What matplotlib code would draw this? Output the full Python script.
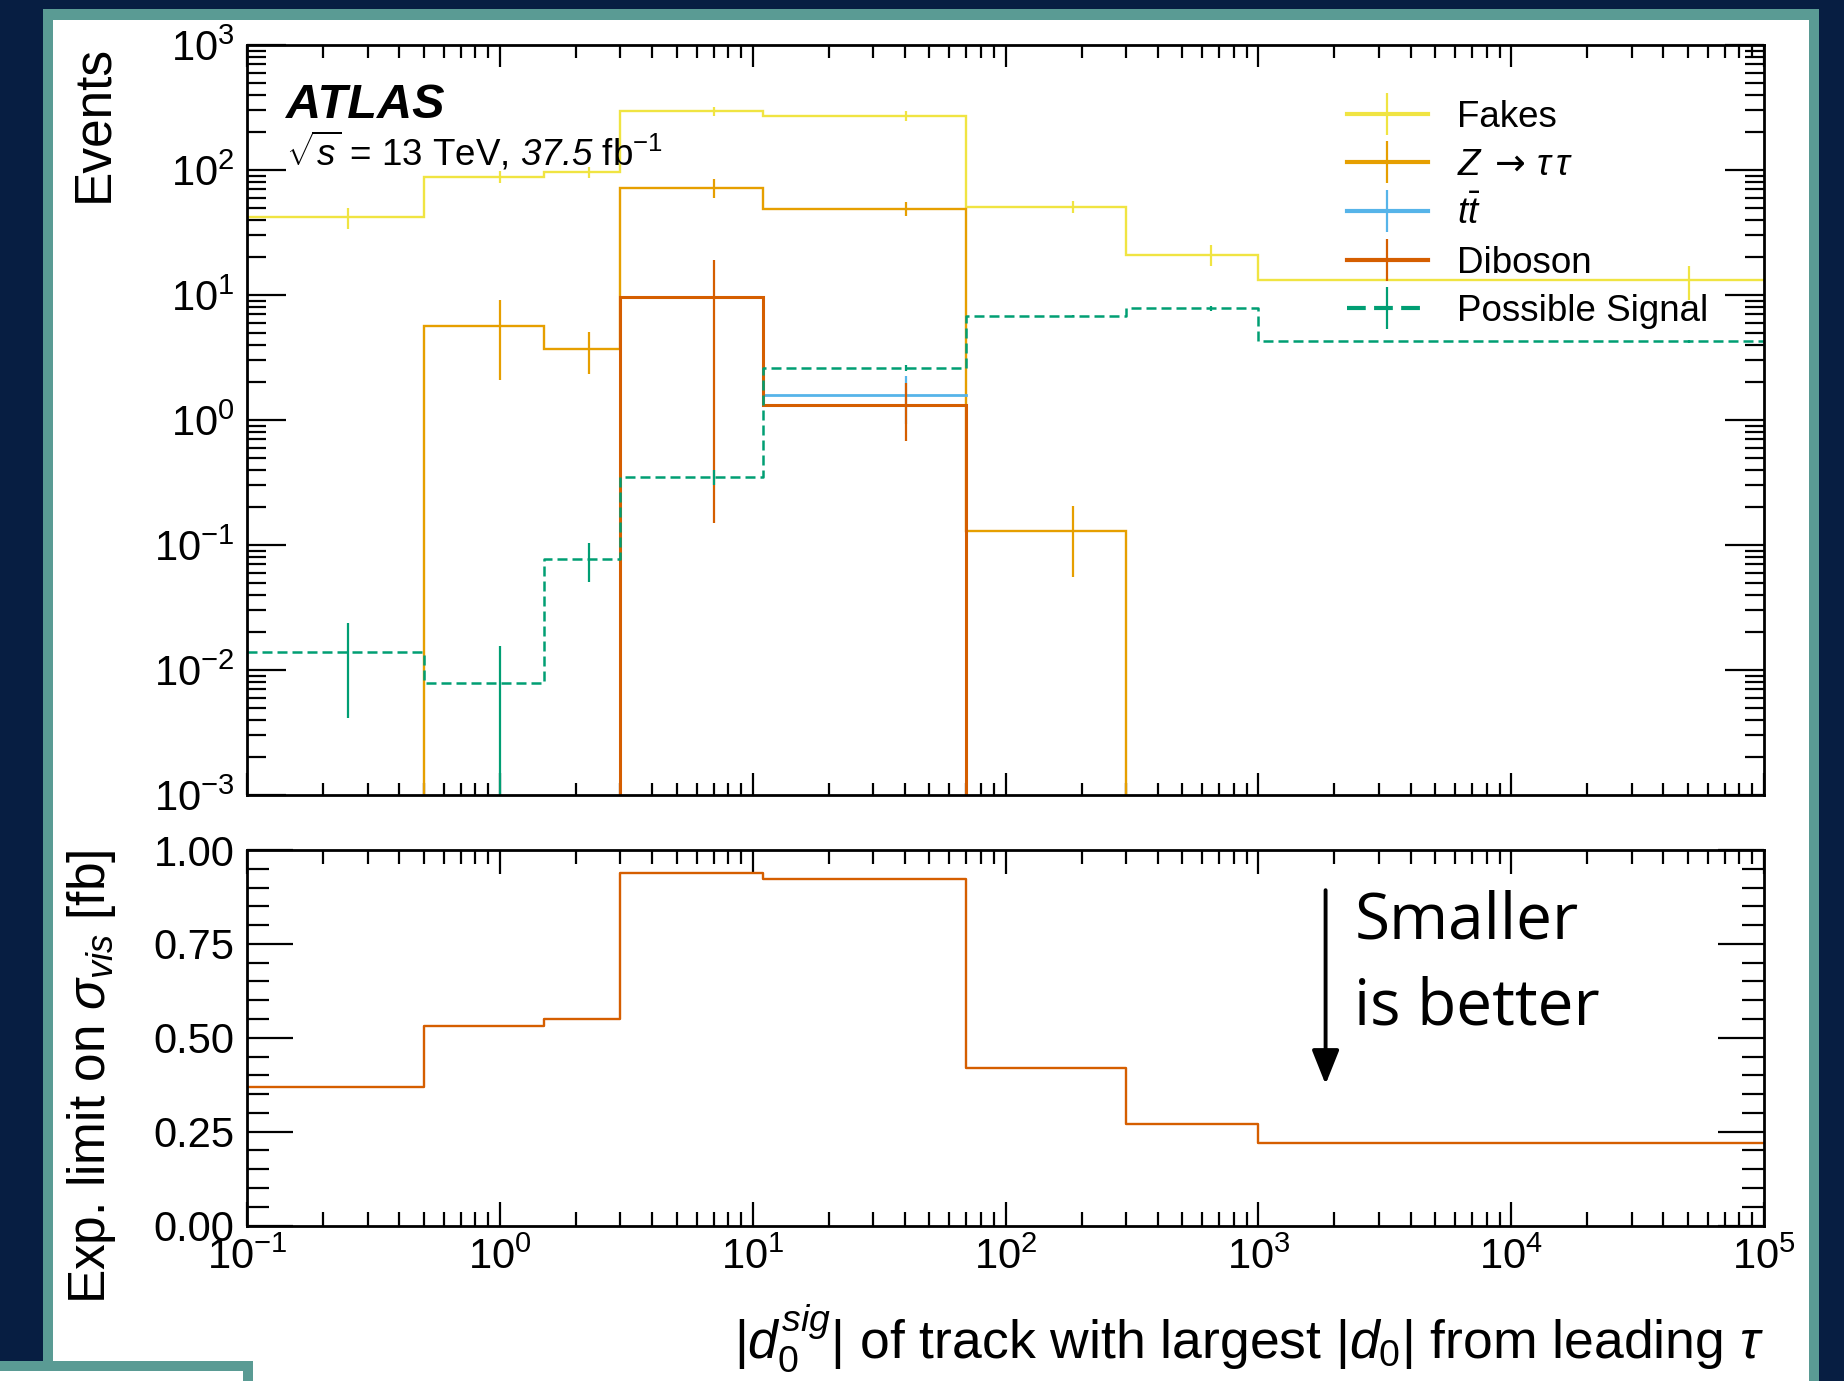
import matplotlib

matplotlib.use("Agg")
import matplotlib.pyplot as plt
import numpy as np
from matplotlib.lines import Line2D
from matplotlib.patches import Rectangle
from matplotlib.ticker import FormatStrFormatter, LogLocator, MultipleLocator

# bin edges of |d0sig| (first bin starts at 0, axis starts at 0.1)
edges = np.array([0.0, 0.5, 1.5, 3.0, 11.0, 70.0, 300.0, 1000.0, 100000.0])

fakes = np.array([42.0, 88.0, 96.0, 295.0, 270.0, 51.0, 21.0, 13.2])
fakes_err = np.array([8.0, 10.0, 10.0, 25.0, 25.0, 6.0, 4.0, 4.0])
ztautau = np.array([0.0, 5.6, 3.7, 72.0, 49.0, 0.13, 0.0, 0.0])
ztautau_err = np.array([0.0, 3.5, 1.35, 12.0, 6.5, 0.075, 0.0, 0.0])
ttbar = np.array([np.nan, np.nan, np.nan, np.nan, 1.58, np.nan, np.nan, np.nan])
ttbar_err = np.array([0.0, 0.0, 0.0, 0.0, 0.65, 0.0, 0.0, 0.0])
diboson = np.array([0.0, 0.0, 0.0, 9.6, 1.32, 0.0, 0.0, 0.0])
diboson_err = np.array([0.0, 0.0, 0.0, 9.45, 0.64, 0.0, 0.0, 0.0])
signal = np.array([0.0139, 0.0078, 0.077, 0.35, 2.6, 6.8, 7.8, 4.26])
signal_err = np.array([0.0098, 0.0078, 0.026, 0.05, 0.15, 0.1, 0.3, 0.1])

exp_limit = np.array([0.37, 0.53, 0.549, 0.94, 0.922, 0.42, 0.27, 0.219])

labels = ["Fakes", r"$Z\;\mathtt{\rightarrow}\,\tau\,\tau$", r"$t\bar{t}$", "Diboson", "Possible Signal"]
colors = ["#F0E442", "#E69F00", "#56B4E9", "#D55E00", "#009E73"]

XMIN, XMAX = 0.1, 1e5
NAVY = "#071e42"
TEAL = "#5a9b94"

plt.rcParams["font.family"] = ["Liberation Sans", "DejaVu Sans"]
plt.rcParams["mathtext.fontset"] = "custom"
plt.rcParams["mathtext.rm"] = "Liberation Sans"
plt.rcParams["mathtext.it"] = "Liberation Sans:italic"
plt.rcParams["mathtext.bf"] = "Liberation Sans:bold"
plt.rcParams["mathtext.sf"] = "Liberation Sans:italic"  # used for italic digits
plt.rcParams["mathtext.tt"] = "DejaVu Sans"  # wider arrow glyph


def step_xy(values):
    x = np.repeat(np.maximum(edges, XMIN), 2)[1:-1]
    y = np.repeat(values, 2)
    y = np.where(y > 0, y, np.where(np.isnan(y), np.nan, 1e-9))
    return x, y


def style_axis(ax, ymaj, ymin, xmaj, xmin):
    for side in ax.spines.values():
        side.set_linewidth(2.0)
    ax.tick_params(which="both", direction="in", top=True, right=True, width=1.6, colors="black")
    ax.tick_params(axis="y", which="major", length=ymaj, pad=9, labelsize=30)
    ax.tick_params(axis="y", which="minor", length=ymin)
    ax.tick_params(axis="x", which="major", length=xmaj, pad=9, labelsize=30)
    ax.tick_params(axis="x", which="minor", length=xmin)


fig = plt.figure(figsize=(18.44, 13.81), dpi=100)
fig.patch.set_facecolor(NAVY)
W, H = 1844.0, 1381.0
fig.add_artist(Rectangle((43 / W, 0), (1819 - 43) / W, (H - 9) / H, transform=fig.transFigure,
                         facecolor=TEAL, edgecolor="none", zorder=-3))
fig.add_artist(Rectangle((53 / W, 0), (1809 - 53) / W, (H - 20) / H, transform=fig.transFigure,
                         facecolor="white", edgecolor="none", zorder=-2))
fig.add_artist(Rectangle((0, 0), 253 / W, 20 / H, transform=fig.transFigure,
                         facecolor=TEAL, edgecolor="none", zorder=-1))
fig.add_artist(Rectangle((0, 0), 243 / W, 10 / H, transform=fig.transFigure,
                         facecolor="white", edgecolor="none", zorder=-1))

left, right = 247 / W, 1764 / W
ax1 = fig.add_axes([left, 1 - 795 / H, right - left, (795 - 45) / H])
ax2 = fig.add_axes([left, 1 - 1225.5 / H, right - left, (1225.5 - 850) / H])

centers = 0.5 * (edges[:-1] + edges[1:])
samples = [
    (fakes, fakes_err, 1.7),
    (ztautau, ztautau_err, 1.7),
    (ttbar, ttbar_err, 2.0),
    (diboson, diboson_err, 2.2),
]
for (vals, errs, lw), color in zip(samples, colors[:4]):
    x, y = step_xy(vals)
    ax1.plot(x, y, color=color, lw=lw, solid_joinstyle="miter")
    mask = (np.nan_to_num(vals) > 0) & (errs > 0)
    ax1.errorbar(centers[mask], vals[mask], yerr=errs[mask], fmt="none", ecolor=color, elinewidth=1.6)

x, y = step_xy(signal)
ax1.plot(x, y, color=colors[4], lw=1.8, linestyle=(0, (4, 2)))
ax1.errorbar(centers, signal, yerr=signal_err, fmt="none", ecolor=colors[4], elinewidth=1.6)

ax1.set_xscale("log")
ax1.set_yscale("log")
ax1.set_xlim(XMIN, XMAX)
ax1.set_ylim(1e-3, 1e3)
for axis in (ax1.xaxis, ax1.yaxis):
    axis.set_major_locator(LogLocator(base=10, numticks=20))
    axis.set_minor_locator(LogLocator(base=10, subs=np.arange(2, 10), numticks=20))
style_axis(ax1, 28, 14, 16, 9)
ax1.tick_params(axis="x", labelbottom=False)
ax1.set_ylabel("Events", fontsize=37, loc="top")
ax1.yaxis.set_label_coords(-0.085, 1.0)

ax1.text(0.026, 0.903, "ATLAS", transform=ax1.transAxes, fontsize=35, fontweight="bold", fontstyle="italic")
ax1.text(0.026, 0.839, r"$\sqrt{s}$ = 13 TeV, $\mathsf{37.5}$ fb$^{-1}$", transform=ax1.transAxes,
         fontsize=26.5)

handles = []
for label, color in zip(labels[:4], colors[:4]):
    handles.append(Line2D([0], [0], color=color, lw=3, marker="|", markersize=30, markeredgewidth=1.6, label=label))
handles.append(Line2D([0], [0], color=colors[4], lw=3, dashes=(4.5, 2), marker="|", markersize=30,
                      markeredgewidth=1.6, label=labels[4]))
ax1.legend(handles=handles, loc="upper left", bbox_to_anchor=(0.725, 0.927), frameon=False, fontsize=26.5,
           handlelength=2.2, handletextpad=0.8, labelspacing=0.36, borderpad=0, borderaxespad=0)

# lower panel: expected limit
x, y = step_xy(exp_limit)
ax2.plot(x, y, color="#D55E00", lw=1.7)
ax2.set_xscale("log")
ax2.set_xlim(XMIN, XMAX)
ax2.set_ylim(0, 1)
ax2.xaxis.set_major_locator(LogLocator(base=10, numticks=20))
ax2.xaxis.set_minor_locator(LogLocator(base=10, subs=np.arange(2, 10), numticks=20))
ax2.yaxis.set_major_locator(MultipleLocator(0.25))
ax2.yaxis.set_minor_locator(MultipleLocator(0.05))
ax2.yaxis.set_major_formatter(FormatStrFormatter("%.2f"))
style_axis(ax2, 33, 16, 17, 10)
ax2.set_ylabel(r"Exp. limit on $\sigma_{vis}$ [fb]", fontsize=37, loc="top")
ax2.yaxis.set_label_coords(-0.085, 1.0)
ax2.set_xlabel(r"$|d_0^{sig}|$ of track with largest $|d_0|$ from leading $\tau$", fontsize=38.5, loc="right")
ax2.xaxis.set_label_coords(1.0, -0.205)

ax2.annotate("", xy=(0.711, 0.376), xytext=(0.711, 0.893), xycoords="axes fraction",
             arrowprops=dict(arrowstyle="-|>,head_length=0.55,head_width=0.22", color="black", lw=2.8,
                             mutation_scale=38, shrinkA=0, shrinkB=0))
ax2.text(0.730, 0.895, "Smaller\nis better", transform=ax2.transAxes, fontsize=46, family="Open Sans",
         va="top", ha="left", linespacing=1.45)

fig.savefig("out.png", dpi=100, facecolor=fig.get_facecolor())
